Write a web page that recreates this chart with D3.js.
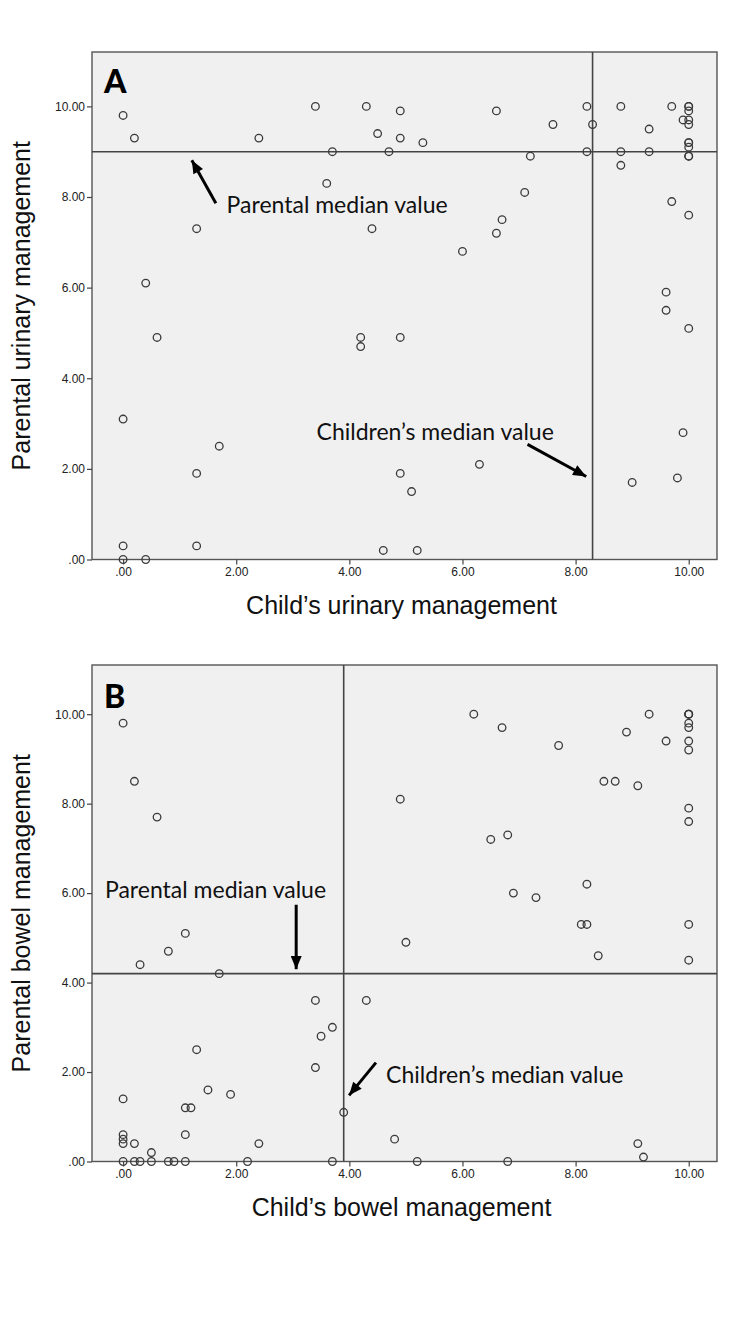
<!DOCTYPE html>
<html>
<head>
<meta charset="utf-8">
<script src="https://cdn.jsdelivr.net/npm/d3@7.9.0/dist/d3.min.js"></script>
<style>
  body { margin: 0; background: #fff; }
  svg { display: block; }
  .tick text { font-family: "Liberation Sans", Arial, sans-serif; font-size: 12px; fill: #222; }
  .tick line { stroke: #444; stroke-width: 1.2; }
  .axis-title { font-family: "Liberation Sans", Arial, sans-serif; font-size: 25px; fill: #111; }
  .note { font-family: Lato, sans-serif; font-size: 23px; fill: #111; }
  .panel-label { font-family: Lato, sans-serif; font-weight: 900; font-size: 32px; fill: #000; }
</style>
</head>
<body>
<div id="chart"></div>
<script>
// panel A: urinary management (child score, parent score)
const urinaryChild = [0, 0.2, 1.3, 0.4, 2.4, 3.4, 4.3, 4.9, 4.5, 4.9, 3.7, 4.7, 3.6, 4.4, 6.6,
    5.3, 7.6, 7.2, 8.2, 8.3, 8.2, 8.8, 8.8, 8.8, 9.3, 9.3, 9.7, 9.9, 10, 10,
    10, 10, 10, 10, 10, 10, 10, 10, 7.1, 6.7, 6.6, 6.0, 9.7, 10, 9.6,
    9.6, 10, 0.6, 4.2, 4.2, 4.9, 0, 1.7, 1.3, 4.9, 5.1, 0, 0, 0.4, 1.3,
    4.6, 6.3, 5.2, 9.9, 9.8, 9.0];
const urinaryParent = [9.8, 9.3, 7.3, 6.1, 9.3, 10, 10, 9.9, 9.4, 9.3, 9.0, 9.0, 8.3, 7.3, 9.9,
    9.2, 9.6, 8.9, 10, 9.6, 9.0, 10, 9.0, 8.7, 9.5, 9.0, 10, 9.7, 10, 10,
    9.9, 9.7, 9.6, 9.2, 9.2, 9.1, 8.9, 8.9, 8.1, 7.5, 7.2, 6.8, 7.9, 7.6, 5.9,
    5.5, 5.1, 4.9, 4.9, 4.7, 4.9, 3.1, 2.5, 1.9, 1.9, 1.5, 0.3, 0, 0, 0.3,
    0.2, 2.1, 0.2, 2.8, 1.8, 1.7];

// panel B: bowel management
const bowelChild = [0, 0.2, 0.6, 4.9, 6.2, 6.7, 7.7, 9.3, 8.9, 9.6, 10, 10, 10, 10, 10,
    10, 10, 8.5, 8.7, 9.1, 10, 10, 6.5, 6.8, 6.9, 7.3, 8.2, 8.1, 8.2, 8.4,
    10, 10, 5.0, 1.1, 0.8, 0.3, 1.7, 3.4, 4.3, 3.7, 3.5, 1.3, 3.4, 1.5, 1.9,
    0, 1.1, 1.2, 1.1, 0, 0, 0, 0.2, 0.5, 3.9, 2.4, 4.8, 9.1, 9.2, 0,
    0.2, 0.3, 0.5, 0.8, 0.9, 1.1, 2.2, 3.7, 5.2, 6.8];
const bowelParent = [9.8, 8.5, 7.7, 8.1, 10, 9.7, 9.3, 10, 9.6, 9.4, 10, 10, 10, 9.8, 9.7,
    9.4, 9.2, 8.5, 8.5, 8.4, 7.9, 7.6, 7.2, 7.3, 6.0, 5.9, 6.2, 5.3, 5.3, 4.6,
    5.3, 4.5, 4.9, 5.1, 4.7, 4.4, 4.2, 3.6, 3.6, 3.0, 2.8, 2.5, 2.1, 1.6, 1.5,
    1.4, 1.2, 1.2, 0.6, 0.6, 0.5, 0.4, 0.4, 0.2, 1.1, 0.4, 0.5, 0.4, 0.1, 0,
    0, 0, 0, 0, 0, 0, 0, 0, 0, 0];

const tickValues = [0, 2, 4, 6, 8, 10];
const medians = { A: { child: 8.3, parent: 9.0 }, B: { child: 3.9, parent: 4.2 } };

const width = 750;
const height = 1333;

const svg = d3.select('#chart').append('svg')
    .attr('width', width)
    .attr('height', height);

svg.append('defs').append('marker')
    .attr('id', 'head')
    .attr('viewBox', '0 0 12 10')
    .attr('refX', 12)
    .attr('refY', 5)
    .attr('markerUnits', 'userSpaceOnUse')
    .attr('markerWidth', 14)
    .attr('markerHeight', 11)
    .attr('orient', 'auto')
    .append('path')
    .attr('d', 'M0,0 L12,5 L0,10 Z')
    .attr('fill', '#000');

const fmt = (d) => (d === 0 ? '.00' : d3.format('.2f')(d));

function drawPanel(cfg) {
    const { left, right, top, bottom, yMax } = cfg;

    const x = d3.scaleLinear().domain([-0.55, 10.5]).range([left, right]);
    const y = d3.scaleLinear().domain([0, yMax]).range([bottom, top]);

    const g = svg.append('g');

    g.append('rect')
        .attr('x', left)
        .attr('y', top)
        .attr('width', right - left)
        .attr('height', bottom - top)
        .attr('fill', '#f0f0f0')
        .attr('stroke', '#555')
        .attr('stroke-width', 1.4);

    const xAxis = g.append('g')
        .attr('transform', `translate(0, ${bottom})`)
        .call(d3.axisBottom(x).tickValues(tickValues).tickFormat(fmt).tickSize(5).tickSizeOuter(0).tickPadding(3));
    xAxis.select('.domain').remove();

    const yAxis = g.append('g')
        .attr('transform', `translate(${left}, 0)`)
        .call(d3.axisLeft(y).tickValues(tickValues).tickFormat(fmt).tickSize(5).tickSizeOuter(0).tickPadding(2));
    yAxis.select('.domain').remove();

    // median reference lines
    g.append('line')
        .attr('x1', x(cfg.median.child)).attr('x2', x(cfg.median.child))
        .attr('y1', top).attr('y2', bottom)
        .attr('stroke', '#444').attr('stroke-width', 1.6);
    g.append('line')
        .attr('x1', left).attr('x2', right)
        .attr('y1', y(cfg.median.parent)).attr('y2', y(cfg.median.parent))
        .attr('stroke', '#444').attr('stroke-width', 1.6);

    const pts = cfg.xs.map((v, i) => [v, cfg.ys[i]]);
    g.append('g')
        .selectAll('circle')
        .data(pts)
        .join('circle')
        .attr('cx', (d) => x(d[0]))
        .attr('cy', (d) => y(d[1]))
        .attr('r', 3.8)
        .attr('fill', 'none')
        .attr('stroke', '#3a3a3a')
        .attr('stroke-width', 1.3);

    g.append('text')
        .attr('class', 'panel-label')
        .attr('x', left + 12)
        .attr('y', cfg.labelY)
        .text(cfg.label);

    // axis titles
    g.append('text')
        .attr('class', 'axis-title')
        .attr('text-anchor', 'middle')
        .attr('transform', `translate(30, ${(top + bottom) / 2}) rotate(-90)`)
        .text(cfg.yTitle);
    g.append('text')
        .attr('class', 'axis-title')
        .attr('text-anchor', 'middle')
        .attr('x', (left + right) / 2 - 3)
        .attr('y', bottom + 54)
        .text(cfg.xTitle);

    // annotations with arrows
    cfg.notes.forEach((n) => {
        g.append('text')
            .attr('class', 'note')
            .attr('x', x(n.tx))
            .attr('y', y(n.ty))
            .attr('dy', '0.35em')
            .text(n.text);
        const x1 = x(n.from[0]), y1 = y(n.from[1]);
        const x2 = x(n.to[0]), y2 = y(n.to[1]);
        const len = Math.hypot(x2 - x1, y2 - y1);
        const k = (len - 4) / len;
        g.append('line')
            .attr('x1', x1).attr('y1', y1)
            .attr('x2', x1 + (x2 - x1) * k).attr('y2', y1 + (y2 - y1) * k)
            .attr('stroke', '#000')
            .attr('stroke-width', 3)
            .attr('marker-end', 'url(#head)');
    });
}

drawPanel({
    label: 'A',
    labelY: 93,
    left: 92, right: 717, top: 52, bottom: 559.5, yMax: 11.2,
    xs: urinaryChild, ys: urinaryParent,
    median: medians.A,
    yTitle: 'Parental urinary management',
    xTitle: 'Child\u2019s urinary management',
    notes: [
        { text: 'Parental median value', tx: 1.83, ty: 7.82, from: [1.64, 7.86], to: [1.18, 8.89] },
        { text: 'Children\u2019s median value', tx: 3.42, ty: 2.82, from: [7.15, 2.54], to: [8.25, 1.79] },
    ],
});

drawPanel({
    label: 'B',
    labelY: 708,
    left: 92, right: 717, top: 665, bottom: 1161.5, yMax: 11.1,
    xs: bowelChild, ys: bowelParent,
    median: medians.B,
    yTitle: 'Parental bowel management',
    xTitle: 'Child\u2019s bowel management',
    notes: [
        { text: 'Parental median value', tx: -0.32, ty: 6.06, from: [3.06, 5.74], to: [3.06, 4.21] },
        { text: 'Children\u2019s median value', tx: 4.65, ty: 1.94, from: [4.47, 2.21], to: [3.95, 1.41] },
    ],
});
</script>
</body>
</html>
